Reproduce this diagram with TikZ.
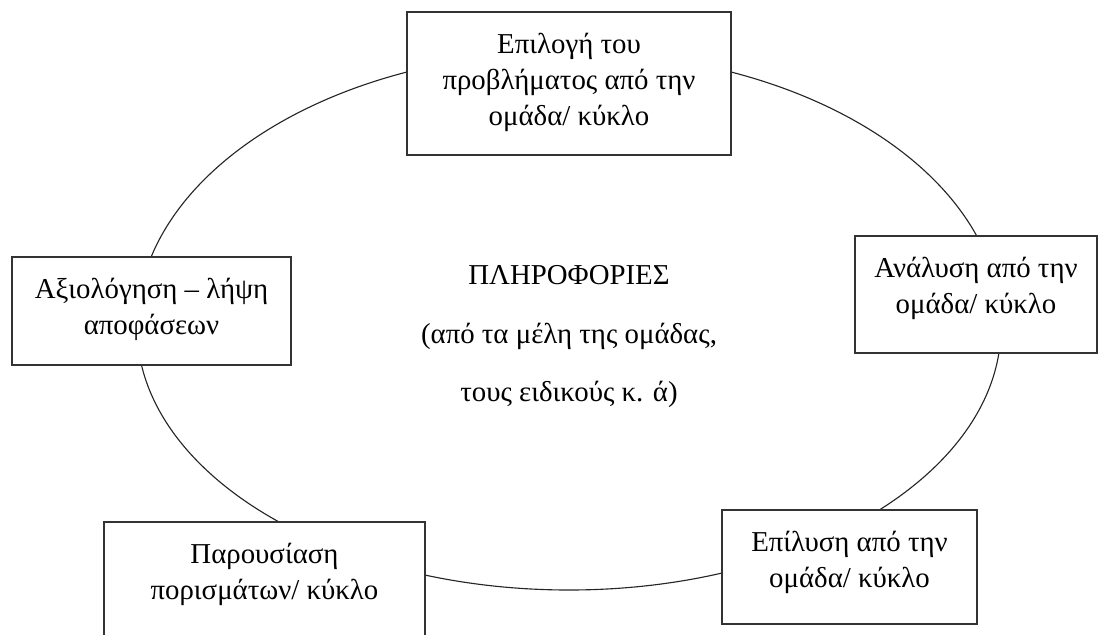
\documentclass[tikz,border=0pt]{standalone}
\usepackage{fontspec}
\setmainfont{Liberation Serif}
\usepackage{tikz}

\newcommand{\boxtext}[3]{\parbox[c][#2][t]{#1}{\centering\rule{0pt}{29.5pt}#3}}

\begin{document}
\begin{tikzpicture}[x=0.025cm,y=-0.025cm,
    box/.style={draw=black!80,line width=1.1pt,fill=white,inner sep=0pt},
    font=\fontsize{20.5}{25.5}\selectfont]
  \clip (0,0) rectangle (1101,634);

  % the cycle
  \draw[line width=0.8pt,black!85] (1001,327)
    arc[start angle=0,end angle=180,x radius=432,y radius=263]
    arc[start angle=180,end angle=360,x radius=432,y radius=275];

  \node[box] (choose) at (569,83.5) {\boxtext{8.1cm}{3.575cm}{Επιλογή του\\προβλήματος από την\\ομάδα/ κύκλο}};
  \node[box] (analyse) at (976,294.5) {\boxtext{6.05cm}{2.925cm}{Ανάλυση από την\\ομάδα/ κύκλο}};
  \node[box] (solve) at (849.5,567) {\boxtext{6.375cm}{2.85cm}{Επίλυση από την\\ομάδα/ κύκλο}};
  \node[box] (present) at (264.5,591) {\boxtext{8.025cm}{3.45cm}{Παρουσίαση\\πορισμάτων/ κύκλο}};
  \node[box] (assess) at (151.5,311) {\boxtext{6.975cm}{2.7cm}{Αξιολόγηση – λήψη\\αποφάσεων}};

  \node[align=center,font=\fontsize{20.5}{41.6}\selectfont] (info) at (569,337)
    {ΠΛΗΡΟΦΟΡΙΕΣ\\(από τα μέλη της ομάδας,\\τους ειδικούς κ. ά)};
\end{tikzpicture}
\end{document}
